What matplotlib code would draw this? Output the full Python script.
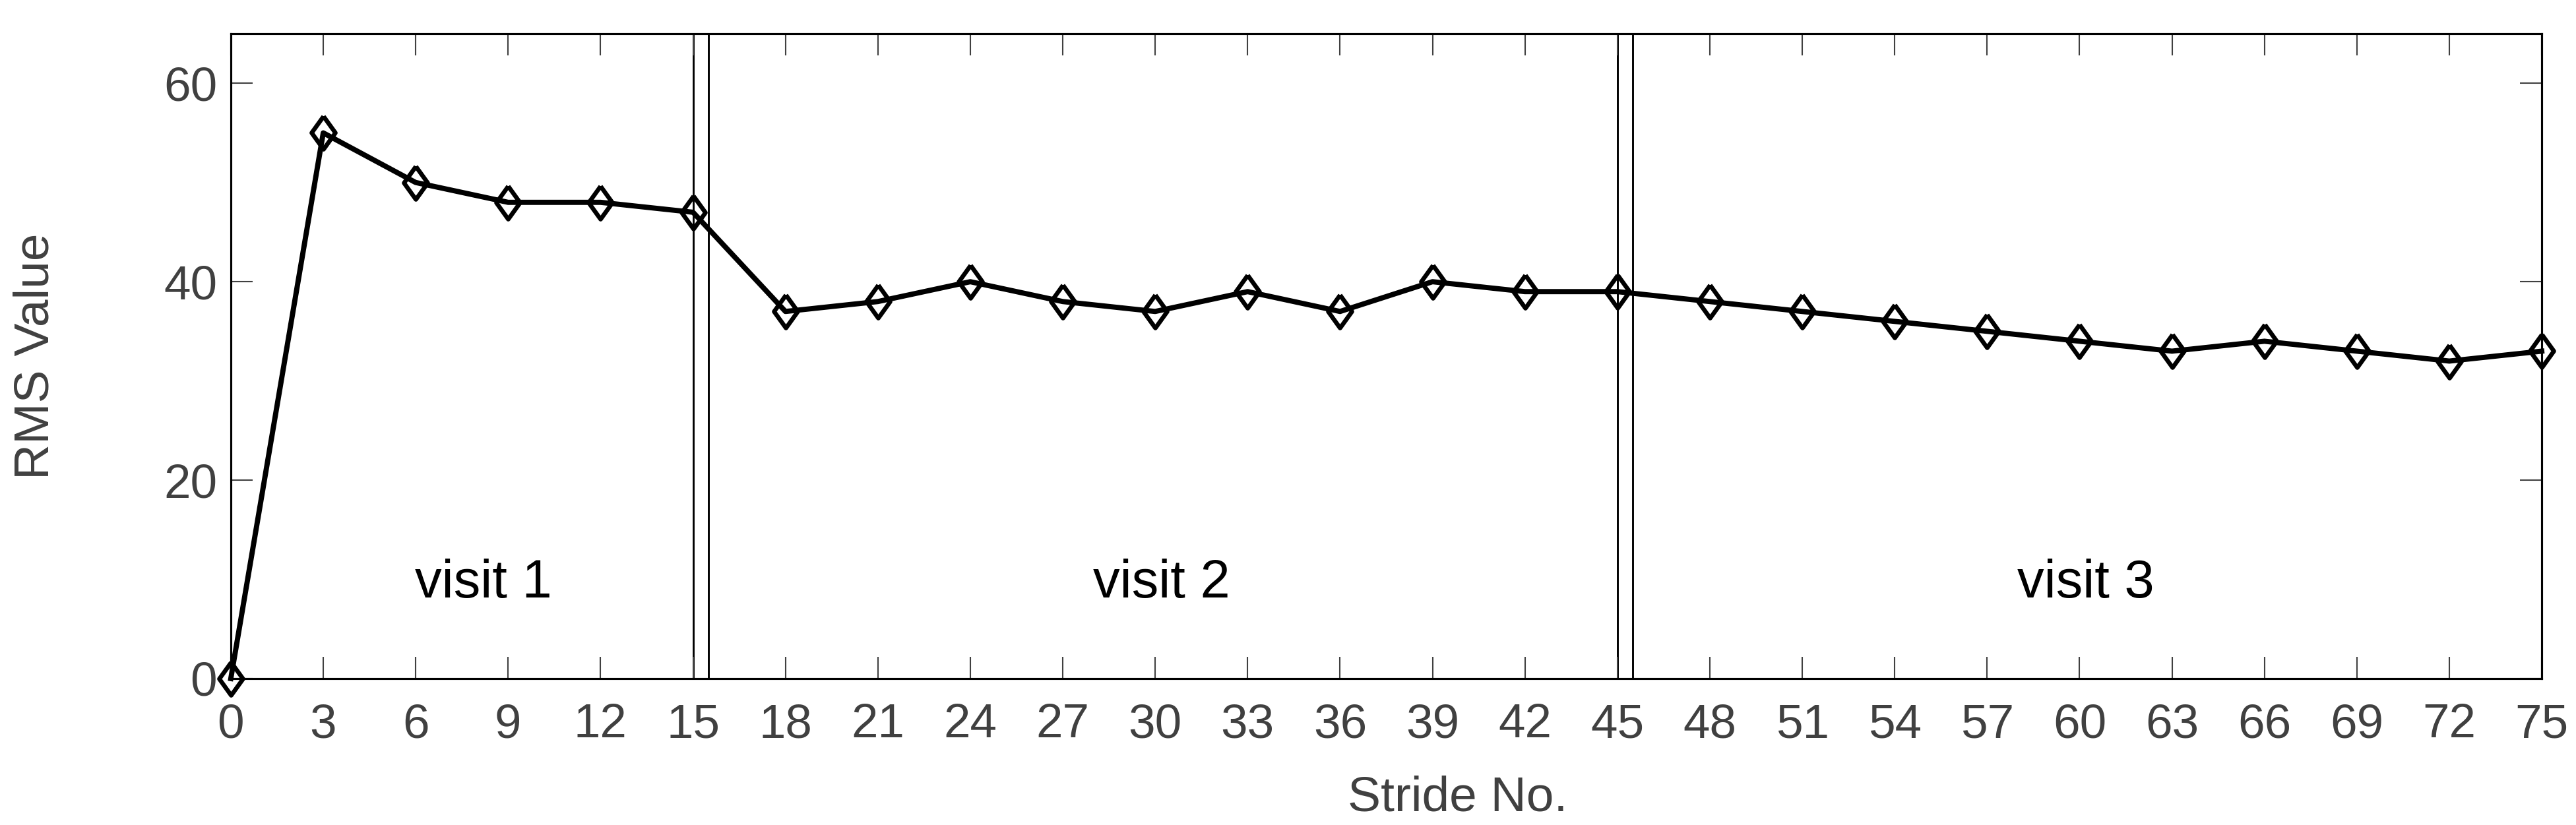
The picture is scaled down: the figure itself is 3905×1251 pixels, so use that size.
import matplotlib
matplotlib.use('Agg')
import matplotlib.pyplot as plt

plt.rcParams['font.family'] = ['Liberation Sans', 'DejaVu Sans']

# stride numbers and RMS values
stride = [0, 3, 6, 9, 12, 15, 18, 21, 24, 27, 30, 33, 36, 39, 42, 45,
          48, 51, 54, 57, 60, 63, 66, 69, 72, 75]
rms = [0, 55, 50, 48, 48, 47, 37, 38, 40, 38, 37, 39, 37, 40, 39, 39,
       38, 37, 36, 35, 34, 33, 34, 33, 32, 33]

# visit boundaries (double lines) and labels
boundaries = [15, 15.5, 45, 45.5]
visit_labels = ['visit 1', 'visit 2', 'visit 3']
visit_x = [8.2, 30.2, 60.2]
visit_y = 9.6

grey = '#404040'
# matlab-style diamond, a bit wider than mpl's thin diamond
diamond = [(0, 1), (0.72, 0), (0, -1), (-0.72, 0), (0, 1)]

fig = plt.figure(figsize=(3905 / 300, 1251 / 300), dpi=300)
ax = fig.add_axes([0.0896, 0.1775, 0.8971, 0.7817])

for b in boundaries:
    ax.axvline(b, color='black', lw=0.7, zorder=1)

ax.plot(stride, rms, color='black', lw=1.9, marker=diamond, markersize=12,
        mfc='none', mec='black', mew=1.6, clip_on=False, zorder=3)

for lab, xv in zip(visit_labels, visit_x):
    ax.text(xv, visit_y, lab, ha='center', va='center', fontsize=19.5, color='black')

ax.set_xlim(0, 75)
ax.set_ylim(0, 65)
ax.set_xticks(stride)
ax.set_yticks([0, 20, 40, 60])

ax.tick_params(direction='in', length=8, width=0.5, color=grey, labelcolor=grey,
               labelsize=17.5, top=True, right=True)
ax.tick_params(axis='x', pad=9)
ax.tick_params(axis='y', pad=5)
for s in ax.spines.values():
    s.set_linewidth(0.75)
    s.set_color('black')

ax.set_xlabel('Stride No.', fontsize=18, color=grey)
ax.xaxis.set_label_coords(0.531, -0.15)
ax.set_ylabel('RMS Value', fontsize=18, color=grey)
ax.yaxis.set_label_coords(-0.0745, 0.5)

fig.savefig('out.png', dpi=300, facecolor='white')
